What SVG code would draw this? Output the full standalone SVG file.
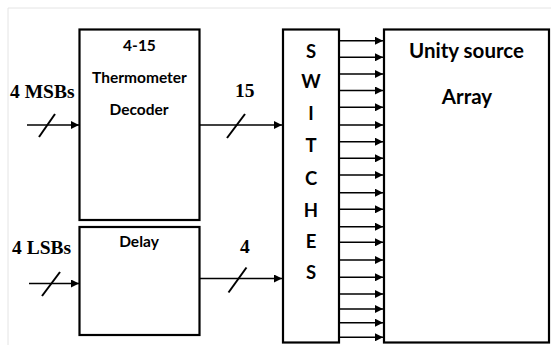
<svg xmlns="http://www.w3.org/2000/svg" width="551" height="345" viewBox="0 0 551 345">
<defs>
<style>
.box{fill:#fff;stroke:#000;stroke-width:2.2}
.ln{stroke:#000;stroke-width:1.5;fill:none}
.sl{stroke:#000;stroke-width:2;fill:none}
.cal{font-family:Lato,"Open Sans","Liberation Sans",sans-serif;font-weight:bold;fill:#000;text-anchor:middle}
.tms{font-family:"Liberation Serif",serif;font-weight:bold;fill:#000}
</style>
<marker id="ah" markerWidth="8" markerHeight="8" viewBox="0 0 8 8" refX="8" refY="4" orient="auto" markerUnits="userSpaceOnUse">
<path d="M0,0 L8,4 L0,8 Z" fill="#000"/>
</marker>
</defs>
<rect width="551" height="345" fill="#fff"/>
<path d="M8,345 V8 H551" fill="none" stroke="#e4e4e4" stroke-width="1"/>

<g id="decoder">
<rect class="box" x="79.5" y="29.5" width="120" height="190.5"/>
<text class="cal" x="139.5" y="51" font-size="15.5">4-15</text>
<text class="cal" x="139.5" y="83" font-size="15.5">Thermometer</text>
<text class="cal" x="139" y="115" font-size="15.5">Decoder</text>
</g>

<g id="delay">
<rect class="box" x="79.5" y="227" width="120" height="108"/>
<text class="cal" x="139" y="247" font-size="15.5">Delay</text>
</g>

<g id="switches">
<rect class="box" x="283" y="29.5" width="56" height="313"/>
<text class="cal" x="311" y="57.5" font-size="18.5">S</text>
<text class="cal" x="311" y="87.5" font-size="18.5">W</text>
<text class="cal" x="311" y="120" font-size="18.5">I</text>
<text class="cal" x="311" y="152" font-size="18.5">T</text>
<text class="cal" x="311" y="184.5" font-size="18.5">C</text>
<text class="cal" x="311" y="217" font-size="18.5">H</text>
<text class="cal" x="311" y="247.5" font-size="18.5">E</text>
<text class="cal" x="311" y="278.5" font-size="18.5">S</text>
</g>

<g id="array">
<rect class="box" x="384" y="29.5" width="165" height="313"/>
<text class="cal" x="466.5" y="57.5" font-size="20.5">Unity source</text>
<text class="cal" x="467" y="104" font-size="20.5">Array</text>
</g>

<g id="labels">
<text class="tms" x="10" y="98" font-size="19.5">4 MSBs</text>
<text class="tms" x="235" y="97" font-size="19.5">15</text>
<text class="tms" x="12" y="254" font-size="19.5">4 LSBs</text>
<text class="tms" x="240" y="253" font-size="19.5">4</text>
</g>

<g id="connectors">
<line class="ln" x1="27" y1="125" x2="79" y2="125" marker-end="url(#ah)"/>
<line class="sl" x1="55" y1="114" x2="39" y2="137"/>
<line class="ln" x1="200" y1="125" x2="282" y2="125" marker-end="url(#ah)"/>
<line class="sl" x1="245" y1="114" x2="227" y2="138"/>
<line class="ln" x1="29" y1="283.5" x2="79" y2="283.5" marker-end="url(#ah)"/>
<line class="sl" x1="60" y1="272" x2="42" y2="296"/>
<line class="ln" x1="200" y1="278.5" x2="282" y2="278.5" marker-end="url(#ah)"/>
<line class="sl" x1="246.5" y1="267.5" x2="228.5" y2="292.5"/>
<g marker-end="url(#ah)">
<line class="ln" x1="340" y1="40.7" x2="383" y2="40.7"/>
<line class="ln" x1="340" y1="57.3" x2="383" y2="57.3"/>
<line class="ln" x1="340" y1="74" x2="383" y2="74"/>
<line class="ln" x1="340" y1="90.5" x2="383" y2="90.5"/>
<line class="ln" x1="340" y1="107.3" x2="383" y2="107.3"/>
<line class="ln" x1="340" y1="125" x2="383" y2="125"/>
<line class="ln" x1="340" y1="141.7" x2="383" y2="141.7"/>
<line class="ln" x1="340" y1="158.3" x2="383" y2="158.3"/>
<line class="ln" x1="340" y1="175" x2="383" y2="175"/>
<line class="ln" x1="340" y1="192.7" x2="383" y2="192.7"/>
<line class="ln" x1="340" y1="209.3" x2="383" y2="209.3"/>
<line class="ln" x1="340" y1="226.7" x2="383" y2="226.7"/>
<line class="ln" x1="340" y1="242.3" x2="383" y2="242.3"/>
<line class="ln" x1="340" y1="260" x2="383" y2="260"/>
<line class="ln" x1="340" y1="277.3" x2="383" y2="277.3"/>
<line class="ln" x1="340" y1="294" x2="383" y2="294"/>
<line class="ln" x1="340" y1="309" x2="383" y2="309"/>
<line class="ln" x1="340" y1="322.7" x2="383" y2="322.7"/>
<line class="ln" x1="340" y1="337.3" x2="383" y2="337.3"/>
</g>
</g>
</svg>
